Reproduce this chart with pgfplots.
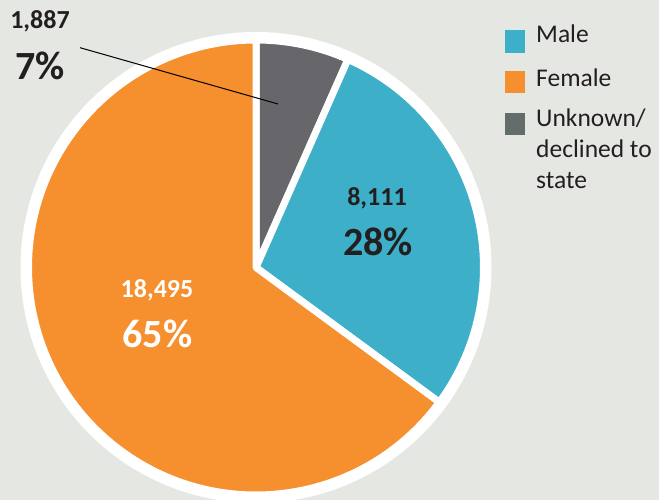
\documentclass[border=0pt]{standalone}
\usepackage{pgfplots}
\usepackage{pgfplotstable}
\pgfplotsset{compat=1.18}
\usepackage{fontspec}
\setmainfont{Carlito}
\definecolor{bg}{HTML}{E5E7E2}
\definecolor{male}{HTML}{3EAFC9}
\definecolor{female}{HTML}{F68F2E}
\definecolor{unk}{HTML}{67666B}
\definecolor{unkleg}{HTML}{636D6B}
\definecolor{txt}{HTML}{231F20}

\pgfplotstableread{
label value
Unknown 1887
Male 8111
Female 18495
}\piedata

\begin{document}
\begin{tikzpicture}
\pgfplotstablegetelem{0}{value}\of\piedata \edef\vU{\pgfplotsretval}
\pgfplotstablegetelem{1}{value}\of\piedata \edef\vM{\pgfplotsretval}
\pgfplotstablegetelem{2}{value}\of\piedata \edef\vF{\pgfplotsretval}
\edef\aU{\fpeval{360*\vU/(\vU+\vM+\vF)}}
\edef\aM{\fpeval{360*\vM/(\vU+\vM+\vF)}}
\edef\aF{\fpeval{360*\vF/(\vU+\vM+\vF)}}
\edef\sM{\fpeval{90-\aU}}
\edef\sF{\fpeval{90-\aU-\aM}}
\begin{axis}[width=659bp,height=500bp,scale only axis,
  xmin=0,xmax=659,ymin=0,ymax=500,hide axis,clip=true]
\fill[bg] (axis cs:0,0) rectangle (axis cs:659,500);
\fill[white] (axis cs:256,232.5) circle[radius=235.5bp];
\filldraw[fill=unk,draw=white,line width=7bp,line join=round]
  (axis cs:256,232.5) -- ++(90:227.5bp) arc[start angle=90,delta angle=-\aU,radius=227.5bp] -- cycle;
\filldraw[fill=male,draw=white,line width=7bp,line join=round]
  (axis cs:256,232.5) -- ++(\sM:227.5bp) arc[start angle=\sM,delta angle=-\aM,radius=227.5bp] -- cycle;
\filldraw[fill=female,draw=white,line width=7bp,line join=round]
  (axis cs:256,232.5) -- ++(\sF:227.5bp) arc[start angle=\sF,delta angle=-\aF,radius=227.5bp] -- cycle;
% leader line
\draw[black,line width=1bp] (axis cs:80,452.3) -- (axis cs:278,396);
% labels
\node[anchor=base,text=txt,font=\fontsize{26bp}{30bp}\selectfont\bfseries] at (axis cs:40,471) {1,887};
\node[anchor=base,text=txt,font=\fontsize{40bp}{46bp}\selectfont\bfseries] at (axis cs:40,420) {7\%};
\node[anchor=base,text=txt,font=\fontsize{26bp}{30bp}\selectfont\bfseries] at (axis cs:377,294) {8,111};
\node[anchor=base,text=txt,font=\fontsize{40bp}{46bp}\selectfont\bfseries] at (axis cs:378,244) {28\%};
\node[anchor=base,text=white,font=\fontsize{26bp}{30bp}\selectfont\bfseries] at (axis cs:157,202) {18,495};
\node[anchor=base,text=white,font=\fontsize{40bp}{46bp}\selectfont\bfseries] at (axis cs:157.5,152) {65\%};
% legend
\fill[male] (axis cs:505,447.3) rectangle (axis cs:525,470);
\fill[female] (axis cs:505,407) rectangle (axis cs:525,429);
\fill[unkleg] (axis cs:505,365) rectangle (axis cs:525,387.3);
\node[anchor=base west,inner sep=0pt,text=txt,font=\fontsize{25.5bp}{31bp}\selectfont] at (axis cs:536,457.3) {Male};
\node[anchor=base west,inner sep=0pt,text=txt,font=\fontsize{25.5bp}{31bp}\selectfont] at (axis cs:536,413.3) {Female};
\node[anchor=base west,inner sep=0pt,text=txt,font=\fontsize{25.5bp}{31bp}\selectfont] at (axis cs:536,373.3) {Unknown/};
\node[anchor=base west,inner sep=0pt,text=txt,font=\fontsize{25.5bp}{31bp}\selectfont] at (axis cs:536,342.5) {declined to};
\node[anchor=base west,inner sep=0pt,text=txt,font=\fontsize{25.5bp}{31bp}\selectfont] at (axis cs:536,311.5) {state};
\end{axis}
\pgfresetboundingbox
\useasboundingbox (current axis.south west) rectangle (current axis.north east);
\end{tikzpicture}
\end{document}
